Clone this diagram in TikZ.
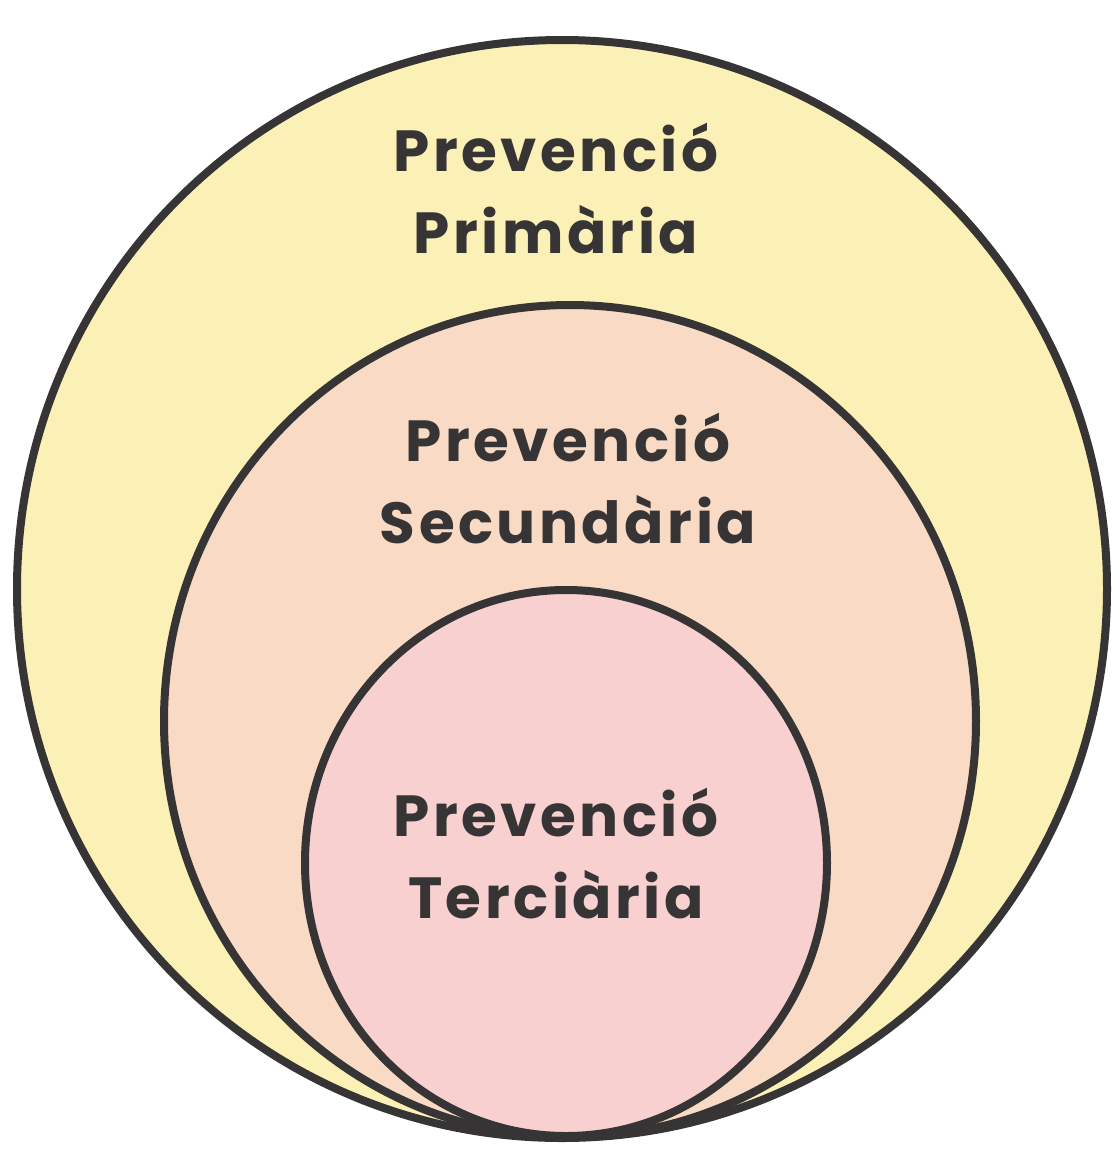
\documentclass[tikz,border=0pt]{standalone}
\usepackage{fontspec}
\setmainfont{Poppins}[UprightFont=* Bold,BoldFont=* Bold,LetterSpace=6]
\definecolor{ink}{HTML}{363434}
\definecolor{primf}{HTML}{FBF1B6}
\definecolor{secf}{HTML}{F9DAC4}
\definecolor{terf}{HTML}{F8D0D0}
\tikzset{
  ring/.style={draw=ink, line width=8pt},
  lbl/.style={text=ink, font=\fontsize{58}{82}\selectfont, align=center, inner sep=0pt}
}
\begin{document}
\begin{tikzpicture}[x=1pt,y=-1pt]
\useasboundingbox[fill=white] (0,0) rectangle (1116,1163);
\path[ring, fill=primf] (562,589) ellipse [x radius=545, y radius=549];
\path[ring, fill=secf] (570,721) ellipse [x radius=406, y radius=416];
\path[ring, fill=terf] (566,863) ellipse [x radius=261, y radius=273];
\node[lbl] (prim) at (556,189) {Prevenció\\Primària};
\node[lbl] (sec) at (568,479) {Prevenció\\Secundària};
\node[lbl] (ter) at (556,854) {Prevenció\\Terciària};
\end{tikzpicture}
\end{document}
